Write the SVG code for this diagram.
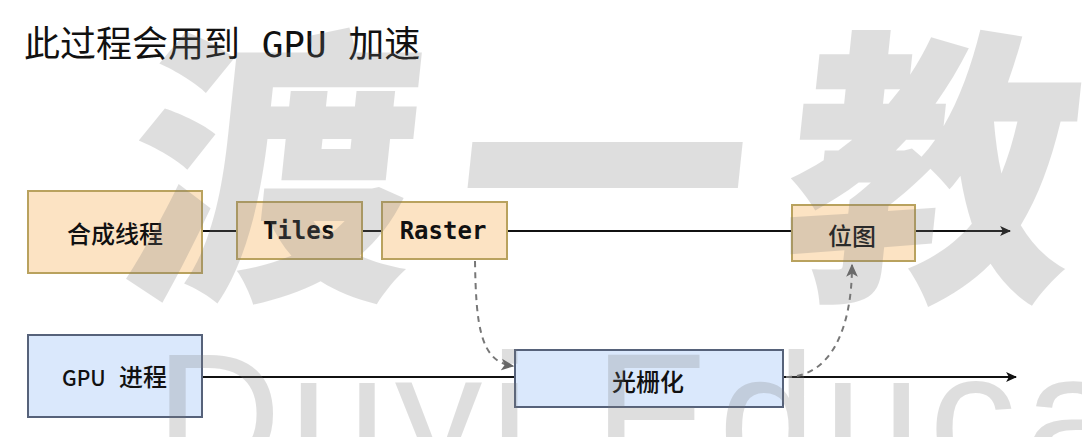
<svg xmlns="http://www.w3.org/2000/svg" width="1082" height="437" viewBox="0 0 1082 437">
<defs>
<style>
.cjk{font-family:"Noto Sans CJK SC","Noto Sans",sans-serif;}
.mono{font-family:"DejaVu Sans Mono","Liberation Mono","Noto Sans CJK SC",monospace;}
.orange{fill:#fce3c3;stroke:#b9a25e;stroke-width:2;}
.blue{fill:#dae8fc;stroke:#56627a;stroke-width:2;}
.lbl{font-size:24px;fill:#111;text-anchor:middle;dominant-baseline:central;}
.line{fill:none;stroke:#111;stroke-width:2;}
.dash{fill:none;stroke:#777;stroke-width:2;stroke-dasharray:6 5;}
.wm{fill:#7a7a7a;opacity:0.24;}
</style>
<marker id="arr" viewBox="0 0 20 20" refX="18" refY="10" markerWidth="11" markerHeight="11" markerUnits="userSpaceOnUse" orient="auto">
<path d="M0,1 L20,10 L0,19 L5,10 Z" fill="#111"/>
</marker>
<marker id="arrg" viewBox="0 0 20 20" refX="18" refY="10" markerWidth="13" markerHeight="13" markerUnits="userSpaceOnUse" orient="auto">
<path d="M0,1 L20,10 L0,19 L5,10 Z" fill="#666"/>
</marker>
</defs>
<rect width="1082" height="437" fill="#ffffff"/>
<text class="mono" x="24" y="57" font-size="36" fill="#111">此过程会用到 GPU 加速</text>
<g id="connectors">
<path class="line" d="M202,231 L237,231"/>
<path class="line" d="M362,231 L382,231"/>
<path class="line" d="M507,231 L792,231"/>
<path class="line" d="M915,231 L1010,231" marker-end="url(#arr)"/>
<path class="line" d="M202,377 L515,377"/>
<path class="line" d="M783,377 L1016,377" marker-end="url(#arr)"/>
<path class="dash" d="M475,261 C476,325 480,362 513,366" marker-end="url(#arrg)"/>
<path class="dash" d="M786,377 C830,377 852,330 852,265" marker-end="url(#arrg)"/>
</g>
<g id="node-compositor">
<rect class="orange" x="28" y="191" width="174" height="82"/>
<text class="cjk lbl" x="115" y="232" font-weight="500">合成线程</text>
</g>
<g id="node-tiles">
<rect class="orange" x="237" y="202" width="125" height="57"/>
<text class="mono lbl" x="299" y="231" font-size="23" font-weight="bold">Tiles</text>
</g>
<g id="node-raster">
<rect class="orange" x="382" y="202" width="125" height="57"/>
<text class="mono lbl" x="443" y="231" font-size="23" font-weight="bold">Raster</text>
</g>
<g id="node-bitmap">
<rect class="orange" x="792" y="205" width="123" height="56"/>
<text class="cjk lbl" x="852" y="234" font-weight="500">位图</text>
</g>
<g id="node-gpu">
<rect class="blue" x="28" y="335" width="174" height="82"/>
<text class="cjk" y="386" fill="#111" font-weight="500"><tspan x="62" font-size="21">GPU</tspan><tspan x="119" font-size="24">进程</tspan></text>
</g>
<g id="node-raster-gpu">
<rect class="blue" x="515" y="350" width="268" height="57"/>
<text class="cjk lbl" x="648" y="380" font-weight="500">光栅化</text>
</g>
<g id="watermark">
<text class="cjk wm" x="118" y="278" font-size="290" font-weight="900" letter-spacing="40" transform="translate(0,278) skewX(-6) translate(0,-278)">渡一教</text>
<text class="wm" x="155" y="475" font-size="175" letter-spacing="8" font-family="Liberation Sans,sans-serif">Duyi Educat</text>
</g>
</svg>
